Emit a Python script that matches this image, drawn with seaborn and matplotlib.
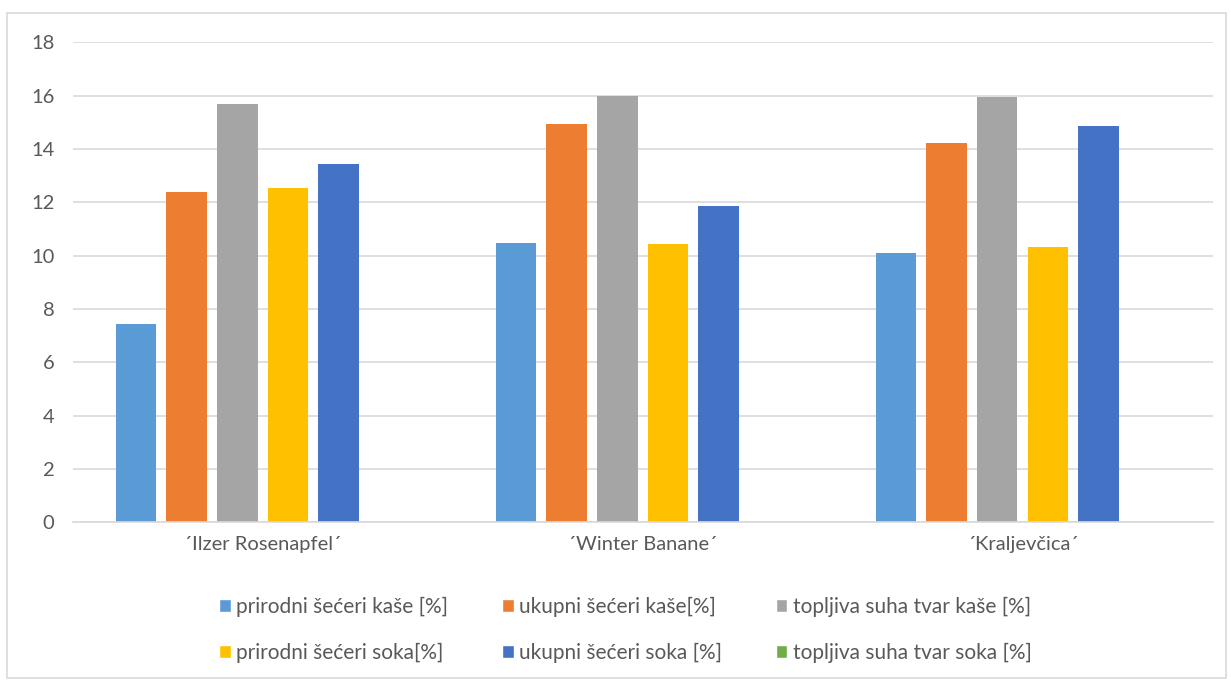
import numpy as np
import pandas as pd
import matplotlib.pyplot as plt
import seaborn as sns
from matplotlib.patches import Patch, Rectangle

sns.set_theme(style="white")
plt.rcParams['font.family'] = ['Lato', 'DejaVu Sans']

# data
sorte = ["´Ilzer Rosenapfel´", "´Winter Banane´", "´Kraljevčica´"]
serije = ["prirodni šećeri kaše [%]", "ukupni šećeri kaše[%]", "topljiva suha tvar kaše [%]",
          "prirodni šećeri soka[%]", "ukupni šećeri soka [%]", "topljiva suha tvar soka [%]"]
prirodni_kase = [7.43, 10.47, 10.10]
ukupni_kase = [12.38, 14.94, 14.23]
suha_tvar_kase = [15.70, 15.99, 15.95]
prirodni_soka = [12.52, 10.42, 10.32]
ukupni_soka = [13.44, 11.86, 14.86]
suha_tvar_soka = [0, 0, 0]  # empty series in the original
boje = ["#5B9BD5", "#ED7D31", "#A5A5A5", "#FFC000", "#4472C4", "#70AD47"]

vrijednosti = [prirodni_kase, ukupni_kase, suha_tvar_kase, prirodni_soka, ukupni_soka, suha_tvar_soka]
rows = []
for s, vals in zip(serije, vrijednosti):
    for sorta, v in zip(sorte, vals):
        rows.append({"sorta": sorta, "parametar": s, "vrijednost": v})
df = pd.DataFrame(rows)

fig = plt.figure(figsize=(12.31, 6.8), dpi=100)
ax = fig.add_axes([0.059, 0.232, 0.926, 0.706])

sns.barplot(data=df, x="sorta", y="vrijednost", hue="parametar", hue_order=serije,
            order=sorte, palette=boje, saturation=1, width=0.8, gap=0.2, linewidth=0,
            errorbar=None, legend=False, ax=ax)

ax.set_ylim(0, 18)
ax.set_yticks(np.arange(0, 19, 2))
ax.set_xlim(-0.5, 2.5)
ax.yaxis.grid(True, color="#D9D9D9", linewidth=1.2)
ax.set_axisbelow(True)
for sp in ["top", "right", "left"]:
    ax.spines[sp].set_visible(False)
ax.spines["bottom"].set_color("#D9D9D9")
ax.spines["bottom"].set_linewidth(1.2)
ax.set_xlabel("")
ax.set_ylabel("")
ax.tick_params(axis="both", length=0, labelsize=14.5, labelcolor="#595959")
ax.tick_params(axis="y", pad=13)
ax.tick_params(axis="x", pad=10)

# legend is filled row by row in the reference
handles = [Patch(facecolor=c, label=l) for c, l in zip(boje, serije)]
handles = [handles[i] for i in [0, 3, 1, 4, 2, 5]]
fig.legend(handles=handles, loc="center", bbox_to_anchor=(0.508, 0.074), ncol=3,
           frameon=False, fontsize=15, labelcolor="#595959", handlelength=0.55,
           handleheight=0.55, handletextpad=0.25, columnspacing=2.6, labelspacing=1.25)

fig.patches.append(Rectangle((0.006, 0.003), 0.99, 0.978, transform=fig.transFigure,
                             fill=False, edgecolor="#D9D9D9", linewidth=1.2))

fig.savefig("out.png", dpi=100, facecolor="white")
